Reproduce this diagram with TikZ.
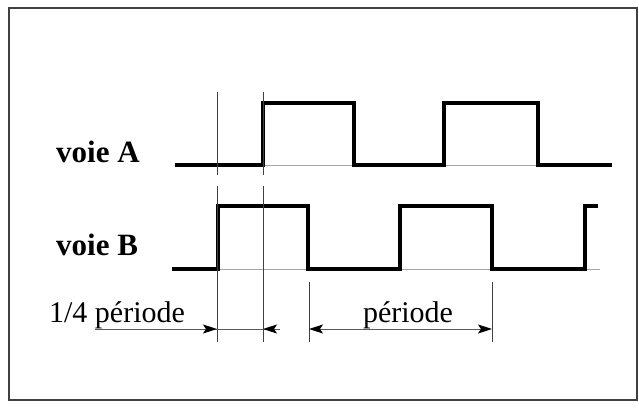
\documentclass[tikz,border=0pt]{standalone}
\usepackage{fontspec}
\setmainfont{Liberation Serif}
\usetikzlibrary{arrows.meta}
\begin{document}
\begin{tikzpicture}[x=1pt,y=-1pt,
  signal/.style={line width=4.8pt, line join=miter, line cap=butt},
  axisline/.style={line width=0.8pt, black!35},
  guide/.style={line width=1pt, black!75},
  dimline/.style={line width=1pt, black!65},
  tip/.tip={Stealth[length=14pt,width=9pt,inset=3pt,black]},
  dimhead/.style={dimline, -tip},
  chan/.style={font=\fontsize{31}{36}\selectfont\bfseries, anchor=base west, inner sep=0pt},
  lbl/.style={font=\fontsize{30}{36}\selectfont, anchor=base, inner sep=0pt}]
\useasboundingbox (0,0) rectangle (639,410);
\draw[line width=1.2pt, black!75] (9,8) rectangle (637,400);

% labels
\node[chan] (voieA) at (56,162) {voie A};
\node[chan] (voieB) at (56,255) {voie B};

% faint base lines
\draw[axisline] (175,165) -- (612,165);
\draw[axisline] (172,269) -- (600,269);

% signals
\draw[signal] (175,165) -- (263,165) -- (263,103) -- (354,103) -- (354,165)
  -- (444,165) -- (444,103) -- (538,103) -- (538,165) -- (612,165);
\draw[signal] (172,269) -- (218,269) -- (218,206) -- (308,206) -- (308,269)
  -- (400,269) -- (400,206) -- (492,206) -- (492,269) -- (585,269)
  -- (585,206) -- (598,206);

% guide lines
\coordinate (g1a) at (217,92);  \coordinate (g1b) at (217,175);
\coordinate (g1c) at (217,186); \coordinate (g1d) at (217,342);
\coordinate (g2a) at (263,92);  \coordinate (g2b) at (263,175);
\coordinate (g2c) at (263,186); \coordinate (g2d) at (263,342);
\coordinate (g3a) at (309,282); \coordinate (g3b) at (309,342);
\coordinate (g4a) at (492,282); \coordinate (g4b) at (492,342);
\draw[guide] (g1a) -- (g1b) (g1c) -- (g1d);
\draw[guide] (g2a) -- (g2b) (g2c) -- (g2d);
\draw[guide] (g3a) -- (g3b);
\draw[guide] (g4a) -- (g4b);

% 1/4 periode
\node[lbl] (quart) at (117,322) {1/4 période};
\coordinate (q0) at (95,329);
\coordinate (q1) at (217,329);
\coordinate (q2) at (263,329);
\coordinate (q3) at (280,329);
\draw[dimline] (q0) -- (q3);
\draw[dimhead] (q0) -- (q1);
\draw[dimhead] (q3) -- (q2);

% periode
\node[lbl] (per) at (408,322) {période};
\coordinate (p1) at (309,329);
\coordinate (p2) at (492,329);
\draw[dimline, tip-tip] (p1) -- (p2);
\end{tikzpicture}
\end{document}
